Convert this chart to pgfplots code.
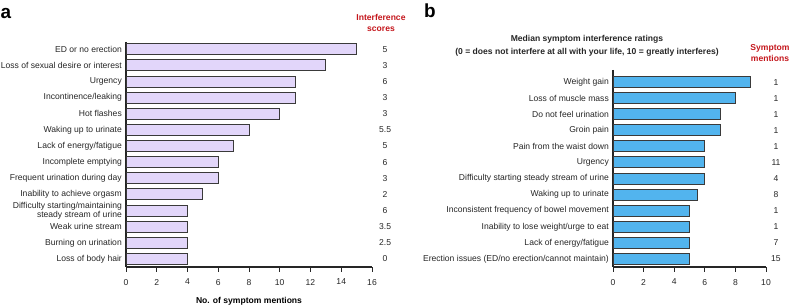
\documentclass[border=0pt]{standalone}
\usepackage{fontspec}
\setmainfont{Liberation Sans}
\usepackage{pgfplots}
\usepackage{pgfplotstable}
\pgfplotsset{compat=1.18}
\definecolor{barA}{HTML}{E2D6FA}
\definecolor{barB}{HTML}{52B4EE}
\definecolor{edge}{HTML}{3A3A3A}
\definecolor{hdr}{HTML}{C4161C}

\pgfplotstableread[col sep=comma]{
idx,val,score
0,15,5
1,13,3
2,11,6
3,11,3
4,10,3
5,8,5.5
6,7,5
7,6,6
8,6,3
9,5,2
10,4,6
11,4,3.5
12,4,2.5
13,4,0
}\dataA

\pgfplotstableread[col sep=comma]{
idx,val,mentions
0,9,1
1,8,1
2,7,1
3,7,1
4,6,1
5,6,11
6,6,4
7,5.5,8
8,5,1
9,5,1
10,5,7
11,5,15
}\dataB

\newcommand{\fs}{\fontsize{8.6}{8}\selectfont}

\pgfplotsset{
  panel/.style={
    scale only axis,
    anchor=south west,
    y dir=reverse,
    axis x line*=bottom,
    axis y line*=left,
    axis line style={-, draw=black!85, line width=1.1bp},
    xtick align=outside,
    major tick length=4.5bp,
    x tick style={draw=black!85, line width=1bp},
    y tick style={draw=none},
    ytick=data,
    tick label style={font=\fs, text=black!85},
    yticklabel style={align=right, inner xsep=4bp},
    xticklabel style={yshift=-4bp},
    /pgf/number format/assume math mode=true,
    clip=false,
  },
}

\begin{document}
\begin{tikzpicture}
\useasboundingbox (0bp,0bp) rectangle (793bp,307bp);

% ---------- Panel a ----------
\begin{axis}[panel,
  at={(126bp,40bp)}, width=246bp, height=225bp,
  xmin=0, xmax=16, xtick={0,2,...,16},
  ymin=-0.45, ymax=13.5,
  yticklabels={ED or no erection,Loss of sexual desire or interest,Urgency,Incontinence/leaking,Hot flashes,Waking up to urinate,Lack of energy/fatigue,Incomplete emptying,Frequent urination during day,Inability to achieve orgasm,{Difficulty starting/maintaining\\steady stream of urine},Weak urine stream,Burning on urination,Loss of body hair},
  xlabel={\bfseries No. of symptom mentions},
  xlabel style={font=\fs, yshift=-5.5bp},
]
\addplot[xbar, bar width=11bp, fill=barA, draw=edge, line width=1bp] table[x=val, y=idx] {\dataA};
\addplot[draw=none, mark=none, nodes near coords, point meta=explicit symbolic,
  nodes near coords style={anchor=center, font=\fs, text=black!85}]
  table[x expr=16.85, y=idx, meta=score] {\dataA};
\end{axis}

% ---------- Panel b ----------
\begin{axis}[panel,
  at={(613bp,40bp)}, width=153bp, height=197bp,
  xmin=0, xmax=10, xtick={0,2,...,10},
  ymin=-0.75, ymax=11.5,
  yticklabels={Weight gain,Loss of muscle mass,Do not feel urination,Groin pain,Pain from the waist down,Urgency,Difficulty starting steady stream of urine,Waking up to urinate,Inconsistent frequency of bowel movement,Inability to lose weight/urge to eat,Lack of energy/fatigue,Erection issues (ED/no erection/cannot maintain)},
]
\addplot[xbar, bar width=11bp, fill=barB, draw=edge, line width=1bp] table[x=val, y=idx] {\dataB};
\addplot[draw=none, mark=none, nodes near coords, point meta=explicit symbolic,
  nodes near coords style={anchor=center, font=\fs, text=black!85}]
  table[x expr=10.65, y=idx, meta=mentions] {\dataB};
\end{axis}

% ---------- Annotations ----------
\node[font=\fontsize{19}{20}\selectfont\bfseries, anchor=center] at (6bp,293.5bp) {a};
\node[font=\fontsize{19}{20}\selectfont\bfseries, anchor=center] at (430bp,296bp) {b};
\node[font=\fontsize{8.6}{11}\selectfont\bfseries, text=hdr, align=center] at (381bp,284bp) {Interference\\scores};
\node[font=\fontsize{8.6}{11}\selectfont\bfseries, text=hdr, align=center] at (770bp,254bp) {Symptom\\mentions};
\node[font=\fontsize{8.6}{13}\selectfont\bfseries, align=center, text=black!85] at (587bp,261bp) {Median symptom interference ratings\\(0 = does not interfere at all with your life, 10 = greatly interferes)};
\end{tikzpicture}
\end{document}
